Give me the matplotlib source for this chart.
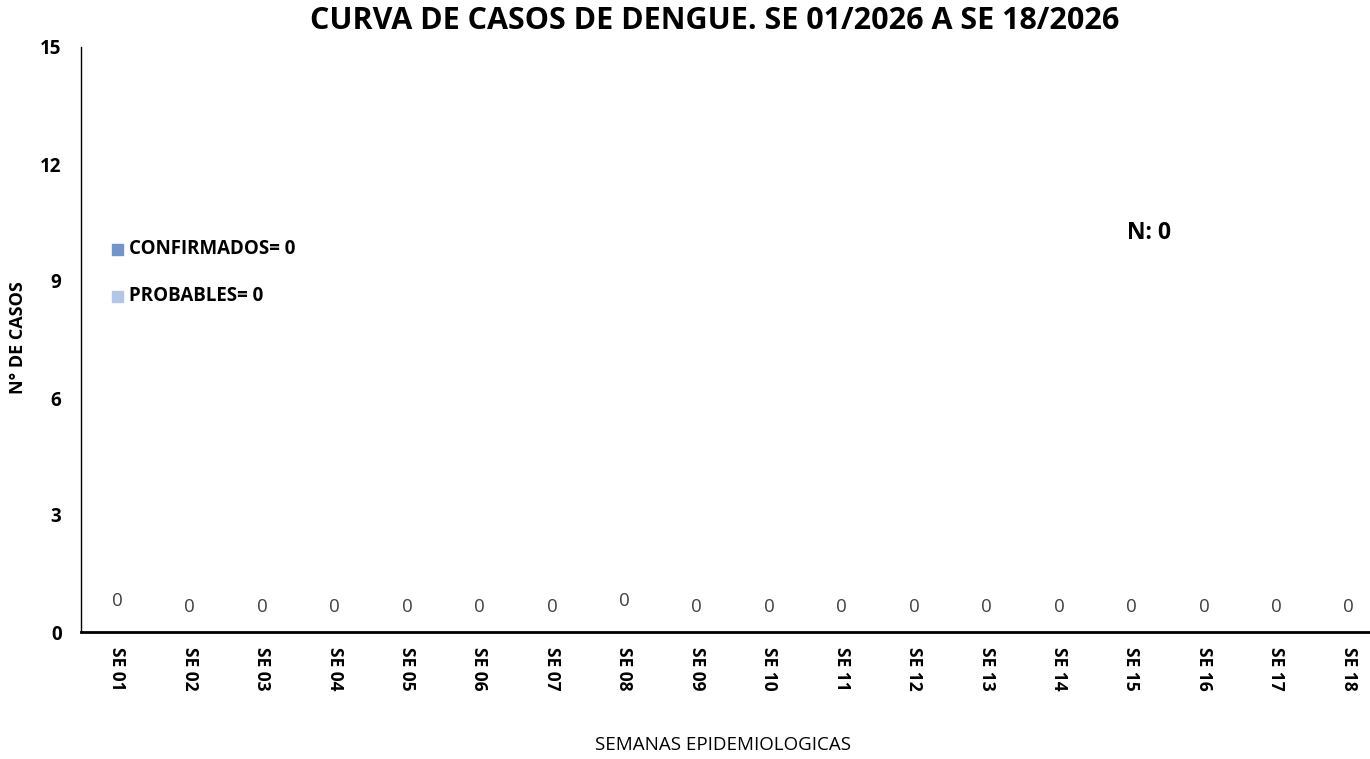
import matplotlib
matplotlib.use("Agg")
import matplotlib.pyplot as plt
import numpy as np

plt.rcParams["font.family"] = ["Open Sans", "DejaVu Sans"]

semanas = [f"SE {i:02d}" for i in range(1, 19)]
confirmados = [0] * 18
probables = [0] * 18
n_total = sum(confirmados) + sum(probables)
# the Excel source puts some labels a little higher
label_raise = [4, 0, 0, 0, 0, 0, 0, 4, 0, 0, 0, 0, 0, 0, 0, 0, 0, 0]

col_conf = "#7394c9"
col_prob = "#b4c6e6"

fig = plt.figure(figsize=(13.7, 7.59), dpi=100)
ax = fig.add_axes([81 / 1370, 127 / 759, 1304 / 1370, 585 / 759])

x = np.arange(len(semanas))
ax.bar(x, confirmados, width=0.6, color=col_conf)
ax.bar(x, probables, width=0.6, bottom=confirmados, color=col_prob)

totals = np.array(confirmados) + np.array(probables)
for xi, t, r in zip(x, totals, label_raise):
    ax.annotate(f"{t}", (xi, t), xytext=(0, 18 + r), textcoords="offset points",
                ha="center", va="center", fontsize=13.5, color="#404040")

ax.set_xlim(-0.5, len(semanas) - 0.5)
ax.set_ylim(0, 15)
ax.set_yticks([0, 3, 6, 9, 12, 15])
ax.set_xticks(x)
ax.set_xticklabels(semanas, rotation=-90, fontsize=12.5, fontweight="bold")
ax.tick_params(axis="both", length=0)
ax.tick_params(axis="x", pad=11)
ax.tick_params(axis="y", pad=14)
for lab in ax.get_yticklabels():
    lab.set_fontweight("bold")
    lab.set_fontsize(13.5)

for s in ["top", "right"]:
    ax.spines[s].set_visible(False)
ax.spines["left"].set_linewidth(1)
ax.spines["bottom"].set_linewidth(2)

ax.set_ylabel("N° DE CASOS", fontsize=13, fontweight="bold")
ax.yaxis.set_label_coords(-54 / 1304, 0.504)
fig.text(723 / 1370, 1 - 745 / 759, "SEMANAS EPIDEMIOLOGICAS", ha="center", va="center", fontsize=13.5)
fig.text(715 / 1370, 1 - 21 / 759, "CURVA DE CASOS DE DENGUE. SE 01/2026 A SE 18/2026",
         ha="center", va="center", fontsize=22, fontweight="bold")

# legend-like text boxes
fig.patches.append(plt.Rectangle((112 / 1370, 1 - 255 / 759), 11 / 1370, 11 / 759,
                                 transform=fig.transFigure, color=col_conf))
fig.text(129 / 1370, 1 - 249 / 759, f"CONFIRMADOS= {sum(confirmados)}", va="center", fontsize=13.5, fontweight="bold")
fig.patches.append(plt.Rectangle((112 / 1370, 1 - 302 / 759), 11 / 1370, 11 / 759,
                                 transform=fig.transFigure, color=col_prob))
fig.text(129 / 1370, 1 - 296 / 759, f"PROBABLES= {sum(probables)}", va="center", fontsize=13.5, fontweight="bold")
fig.text(1127 / 1370, 1 - 233 / 759, f"N: {n_total}", va="center", fontsize=16.5, fontweight="bold")

fig.savefig("out.png", dpi=100)
